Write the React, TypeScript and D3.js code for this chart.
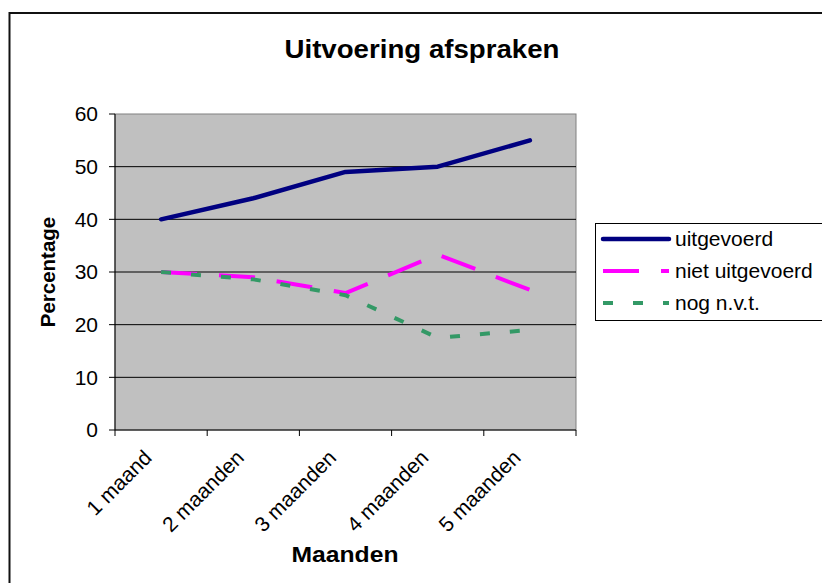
import React from "react";
import * as d3 from "d3";

const categories = ["1 maand", "2 maanden", "3 maanden", "4 maanden", "5 maanden"];
const uitgevoerd = [40, 44, 49, 50, 55];
const nietUitgevoerd = [30, 29, 26, 33.3, 26.6];
const nogNvt = [30, 28.6, 25.6, 17.5, 19];
const yTicks = [0, 10, 20, 30, 40, 50, 60];

const seriesNames = ["uitgevoerd", "niet uitgevoerd", "nog n.v.t."];
const seriesColors = ["#000080", "#FF00FF", "#339966"];
const seriesDash = ["", "36,22", "10,20"];

export default function App() {
  const W = 822;
  const H = 583;
  const left = 115, right = 576, top = 114, bottom = 430;
  const x = d3.scaleBand<string>().domain(categories).range([left, right]);
  const y = d3.scaleLinear().domain([0, 60]).range([bottom, top]);
  const cx = (c: string) => (x(c) as number) + x.bandwidth() / 2;
  const line = d3
    .line<number>()
    .x((_, i) => cx(categories[i]))
    .y((d) => y(d));
  const data = [uitgevoerd, nietUitgevoerd, nogNvt];
  const font = "Arial, 'Liberation Sans', sans-serif";

  return (
    <svg
      width={W}
      height={H}
      style={{ position: "absolute", left: 0, top: 0, background: "#fff" }}
      fontFamily={font}
    >
      <rect x={9.5} y={13} width={900} height={700} fill="#fff" stroke="#111" strokeWidth={2} />
      <text
        x={422}
        y={58}
        textAnchor="middle"
        fontSize={25}
        fontWeight="bold"
        fill="#000"
        textLength={275}
        lengthAdjust="spacingAndGlyphs"
      >
        Uitvoering afspraken
      </text>

      {/* plot area */}
      <rect x={left} y={top} width={right - left} height={bottom - top} fill="#C0C0C0" stroke="#808080" strokeWidth={1} />
      {yTicks.slice(1, -1).map((t) => (
        <line key={t} x1={left} x2={right} y1={y(t)} y2={y(t)} stroke="#000" strokeWidth={1} />
      ))}
      {/* axes */}
      <line x1={left} x2={left} y1={top} y2={bottom} stroke="#000" strokeWidth={1} />
      <line x1={left} x2={right} y1={bottom} y2={bottom} stroke="#000" strokeWidth={1} />
      {yTicks.map((t) => (
        <g key={t}>
          <line x1={left - 6} x2={left} y1={y(t)} y2={y(t)} stroke="#000" />
          <text x={98} y={y(t)} dy="0.35em" textAnchor="end" fontSize={21} fill="#000">
            {t}
          </text>
        </g>
      ))}
      {[...categories.map((c) => x(c) as number), right].map((v, i) => (
        <line key={i} x1={v} x2={v} y1={bottom} y2={bottom + 6} stroke="#000" />
      ))}
      {categories.map((c) => (
        <text
          key={c}
          transform={`translate(${cx(c) - 8},${bottom + 29}) rotate(-45)`}
          textAnchor="end"
          fontSize={21}
          fill="#000"
        >
          {c}
        </text>
      ))}
      <text
        transform={`translate(55,${(top + bottom) / 2}) rotate(-90)`}
        textAnchor="middle"
        fontSize={20.5}
        fontWeight="bold"
        fill="#000"
      >
        Percentage
      </text>
      <text
        x={345}
        y={562}
        textAnchor="middle"
        fontSize={22}
        fontWeight="bold"
        fill="#000"
        textLength={107}
        lengthAdjust="spacingAndGlyphs"
      >
        Maanden
      </text>

      {/* series */}
      {data.map((s, i) => (
        <path
          key={i}
          d={line(s) as string}
          fill="none"
          stroke={seriesColors[i]}
          strokeWidth={i === 0 ? 4.5 : 4}
          strokeDasharray={seriesDash[i] || undefined}
          strokeLinecap={i === 0 ? "round" : "butt"}
          strokeLinejoin="round"
        />
      ))}

      {/* legend */}
      <rect x={595.5} y={223.5} width={240} height={97} fill="#fff" stroke="#000" strokeWidth={1} />
      {seriesNames.map((n, i) => {
        const ly = 239 + i * 32;
        return (
          <g key={n}>
            <line
              x1={603}
              x2={669}
              y1={ly}
              y2={ly}
              stroke={seriesColors[i]}
              strokeWidth={i === 0 ? 4.5 : 4}
              strokeDasharray={seriesDash[i] || undefined}
              strokeLinecap={i === 0 ? "round" : "butt"}
            />
            <text x={675} y={ly} dy="0.35em" fontSize={21} fill="#000">
              {n}
            </text>
          </g>
        );
      })}
    </svg>
  );
}
